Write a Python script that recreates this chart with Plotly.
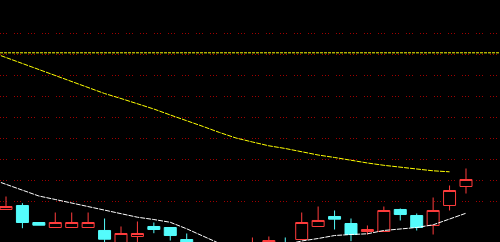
import plotly.graph_objects as go

# ---- data (prices) ----
idx = list(range(29))
opens  = [9.810, 9.905, 9.500, 9.381, 9.381, 9.381, 9.310, 8.833, 9.167, 9.405,
          9.381, 9.095, 8.929, 8.595, 8.881, 8.714, 8.833, 8.976, 9.095, 9.405,
          9.643, 9.476, 9.286, 9.286, 9.810, 9.667, 9.429, 9.905, 10.357]
highs  = [10.119, 9.960, 9.500, 9.738, 9.738, 9.738, 9.595, 9.405, 9.524, 9.500,
          9.381, 9.238, 8.976, 8.952, 8.952, 9.143, 9.167, 9.143, 9.738, 9.881,
          9.786, 9.595, 9.429, 9.881, 9.833, 9.714, 10.095, 10.381, 10.786]
lows   = [9.810, 9.364, 9.436, 9.381, 9.381, 9.381, 8.929, 8.833, 8.881, 9.245,
          9.071, 8.833, 8.548, 8.548, 8.500, 8.690, 8.810, 8.762, 9.095, 9.405,
          9.333, 9.055, 9.214, 9.286, 9.548, 9.310, 9.214, 9.786, 10.190]
closes = [9.881, 9.500, 9.436, 9.500, 9.500, 9.500, 9.102, 9.238, 9.238, 9.333,
          9.190, 8.929, 8.690, 8.833, 8.643, 8.952, 9.071, 8.786, 9.500, 9.548,
          9.579, 9.214, 9.333, 9.786, 9.690, 9.381, 9.786, 10.262, 10.524]

ma_long_x = list(range(-1, 28))
ma_long = [13.571, 13.429, 13.286, 13.143, 13.012, 12.869, 12.726, 12.571, 12.452,
           12.333, 12.202, 12.060, 11.929, 11.786, 11.643, 11.512, 11.417, 11.326,
           11.262, 11.179, 11.107, 11.048, 10.976, 10.917, 10.862, 10.810, 10.774,
           10.731, 10.707]

ma_short_x = list(range(-1, 29))
ma_short = [10.548, 10.405, 10.262, 10.131, 10.048, 9.964, 9.893, 9.798, 9.714,
            9.626, 9.571, 9.505, 9.350, 9.179, 9.000, 8.881, 8.833, 8.881, 8.976,
            9.060, 9.119, 9.190, 9.214, 9.231, 9.310, 9.350, 9.381, 9.445, 9.579,
            9.721]

ref_level = 13.540
grid_vals = [10.0, 10.5, 11.0, 11.5, 12.0, 12.5, 13.0, 13.5, 14.0]

RED = "#ff3c3c"
CYAN = "#54fcfc"

fig = go.Figure()
fig.add_trace(go.Scatter(x=ma_long_x, y=ma_long, mode="lines",
                         line=dict(color="#ffff00", width=1, dash="5px,1px"),
                         hoverinfo="skip"))
fig.add_trace(go.Scatter(x=ma_short_x, y=ma_short, mode="lines",
                         line=dict(color="#ffffff", width=1, dash="5px,1px"),
                         hoverinfo="skip"))
fig.add_trace(go.Candlestick(
    x=idx, open=opens, high=highs, low=lows, close=closes,
    increasing=dict(line=dict(color=RED, width=1), fillcolor="#000000"),
    decreasing=dict(line=dict(color=CYAN, width=1), fillcolor=CYAN),
    whiskerwidth=0,
))

fig.add_shape(type="line", xref="paper", x0=0, x1=1, yref="y",
              y0=ref_level, y1=ref_level,
              line=dict(color="#ffff00", width=1, dash="3px,1px"))

shift = 0.5 / 42.0
fig.update_layout(
    width=500, height=242,
    margin=dict(l=0, r=0, t=0, b=0),
    paper_bgcolor="#000000", plot_bgcolor="#000000",
    showlegend=False,
    boxgap=0.27, boxgroupgap=0,
    xaxis=dict(range=[-0.365, 30.07], showgrid=False, zeroline=False,
               showticklabels=False, ticks="", rangeslider=dict(visible=False),
               showline=False),
    yaxis=dict(range=[9.0238 + shift, 14.7857 + shift], tickvals=grid_vals,
               showgrid=True, gridcolor="#a00000", gridwidth=1,
               griddash="1px,2px,1px,2px,1px,7px",
               zeroline=False, showticklabels=False, ticks="", showline=False),
)

fig.write_html("out.html")
